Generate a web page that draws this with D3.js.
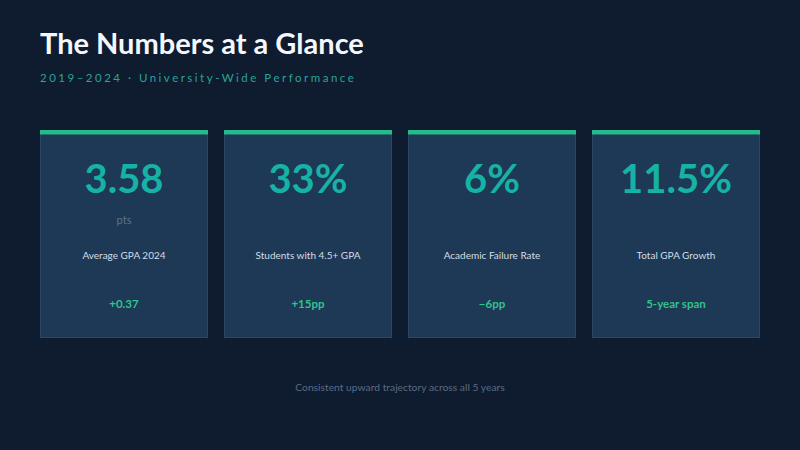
<!DOCTYPE html>
<html>
<head>
<meta charset="utf-8">
<script src="https://cdn.jsdelivr.net/npm/d3@7"></script>
<style>
  html, body { margin: 0; padding: 0; background: #0f1b2e; }
  svg { display: block; }
</style>
</head>
<body>
<svg id="chart" width="800" height="450"></svg>
<script>
// kpi data
var values = ["3.58", "33%", "6%", "11.5%"];
var units = ["pts", "", "", ""];
var labels = ["Average GPA 2024", "Students with 4.5+ GPA", "Academic Failure Rate", "Total GPA Growth"];
var deltas = ["+0.37", "+15pp", "\u22126pp", "5-year span"];

var svg = d3.select("#chart");
var font = "Lato, 'Open Sans', sans-serif";

svg.append("rect").attr("width", 800).attr("height", 450).attr("fill", "#0f1b2e");

// title + subtitle
svg.append("text")
   .attr("x", 40).attr("y", 54)
   .attr("font-family", font).attr("font-weight", 700).attr("font-size", 29)
   .attr("fill", "#f4f7fb")
   .text("The Numbers at a Glance");

svg.append("text")
   .attr("x", 40).attr("y", 82)
   .attr("font-family", font).attr("font-size", 11.5)
   .attr("letter-spacing", 2.5)
   .attr("fill", "#2aa39c")
   .text("2019\u20132024 \u00b7 University-Wide Performance");

// card positions from a band scale
var x = d3.scaleBand()
   .domain(d3.range(values.length))
   .range([40, 760])
   .paddingInner(16 / 184)
   .paddingOuter(0);

var cardTop = 130, cardH = 208;

var cards = svg.selectAll("g.card")
   .data(values)
   .join("g")
   .attr("class", "card")
   .attr("transform", (d, i) => `translate(${x(i)},${cardTop})`);

var w = x.bandwidth();

cards.append("rect")
   .attr("x", 0.5).attr("y", 0.5)
   .attr("width", w - 1).attr("height", cardH - 1)
   .attr("fill", "#1d3955")
   .attr("stroke", "#2b4866").attr("stroke-width", 1);

cards.append("rect")
   .attr("width", w).attr("height", 4.5)
   .attr("fill", "#27b88c");

cards.append("text")
   .attr("x", w / 2).attr("y", 63)
   .attr("text-anchor", "middle")
   .attr("font-family", font).attr("font-weight", 700).attr("font-size", 40)
   .attr("fill", "#17b2a6")
   .text(d => d);

cards.append("text")
   .attr("x", w / 2).attr("y", 94)
   .attr("text-anchor", "middle")
   .attr("font-family", font).attr("font-size", 11)
   .attr("fill", "#5b7590")
   .text((d, i) => units[i]);

cards.append("text")
   .attr("x", w / 2).attr("y", 129)
   .attr("text-anchor", "middle")
   .attr("font-family", font).attr("font-size", 10)
   .attr("fill", "#d3dde8")
   .text((d, i) => labels[i]);

cards.append("text")
   .attr("x", w / 2).attr("y", 178)
   .attr("text-anchor", "middle")
   .attr("font-family", font).attr("font-weight", 700).attr("font-size", 11.5)
   .attr("fill", "#31c28e")
   .text((d, i) => deltas[i]);

// footer note
svg.append("text")
   .attr("x", 400).attr("y", 391)
   .attr("text-anchor", "middle")
   .attr("font-family", font).attr("font-size", 10.3)
   .attr("fill", "#5a6c84")
   .text("Consistent upward trajectory across all 5 years");
</script>
</body>
</html>
